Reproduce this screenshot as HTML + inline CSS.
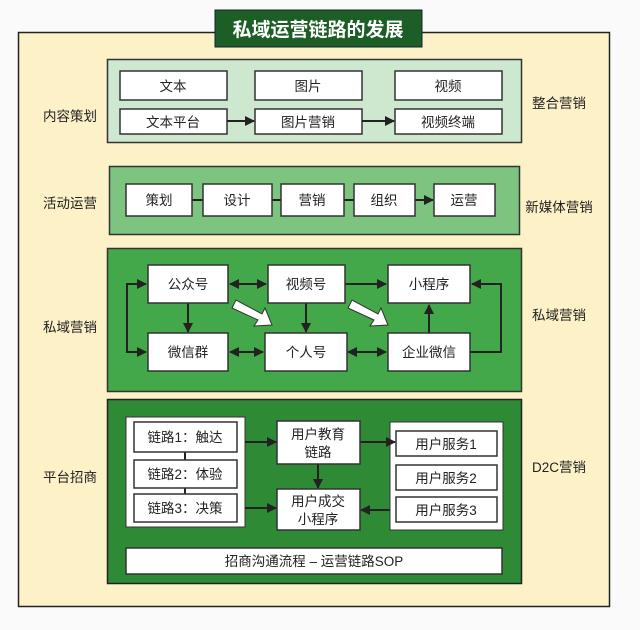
<!DOCTYPE html>
<html><head><meta charset="utf-8"><style>
html,body{margin:0;padding:0;background:#fafafa;}
svg text{font-family:"Liberation Sans","Noto Sans CJK SC",sans-serif;fill:#222;}
</style></head><body>
<svg width="640" height="625" viewBox="0 0 640 625" xmlns="http://www.w3.org/2000/svg">
<defs>
<marker id="a" markerWidth="10" markerHeight="10" refX="9" refY="5" orient="auto" markerUnits="userSpaceOnUse"><path d="M0,0 L10,5 L0,10 z" fill="#222"/></marker>
<marker id="s" markerWidth="10" markerHeight="10" refX="1" refY="5" orient="auto" markerUnits="userSpaceOnUse"><path d="M10,0 L0,5 L10,10 z" fill="#222"/></marker>
</defs>
<rect x="0" y="0" width="640" height="625" fill="#fafafa"/>
<rect x="18.5" y="32.5" width="591" height="574" fill="#fdf1c8" stroke="#222" stroke-width="1.5"/>
<rect x="215" y="10" width="207" height="37" fill="#1d5e27" stroke="#123" stroke-width="1"/>
<text x="318" y="36" font-size="19" font-weight="bold" text-anchor="middle" style="fill:#fff">私域运营链路的发展</text>

<g font-size="13.5" text-anchor="middle">
<text x="70" y="121">内容策划</text>
<text x="70" y="208">活动运营</text>
<text x="70" y="332">私域营销</text>
<text x="70" y="482">平台招商</text>
<text x="559" y="108">整合营销</text>
<text x="559" y="212">新媒体营销</text>
<text x="559" y="320">私域营销</text>
<text x="559" y="472">D2C营销</text>
</g>

<rect x="107.5" y="59.5" width="414" height="83" fill="#cde8cf" stroke="#333" stroke-width="1.5"/>
<g fill="#fff" stroke="#333" stroke-width="1.5">
<rect x="120" y="71" width="107" height="29"/><rect x="255" y="71" width="107" height="29"/><rect x="395" y="71" width="107" height="29"/>
<rect x="120" y="109" width="107" height="25"/><rect x="255" y="109" width="107" height="25"/><rect x="395" y="109" width="107" height="25"/>
</g>
<g stroke="#222" stroke-width="2"><line x1="227" y1="121" x2="254" y2="121" marker-end="url(#a)"/><line x1="362" y1="121" x2="394" y2="121" marker-end="url(#a)"/></g>
<g font-size="13.5" text-anchor="middle">
<text x="173" y="91">文本</text><text x="308" y="91">图片</text><text x="448" y="91">视频</text>
<text x="173" y="127">文本平台</text><text x="308" y="127">图片营销</text><text x="448" y="127">视频终端</text>
</g>

<rect x="109.5" y="166.5" width="410" height="68" fill="#7cc47f" stroke="#333" stroke-width="1.5"/>
<g stroke="#222" stroke-width="2"><line x1="192" y1="200" x2="203" y2="200"/><line x1="272" y1="200" x2="281" y2="200"/><line x1="344" y1="200" x2="354" y2="200"/><line x1="415" y1="200" x2="433" y2="200" marker-end="url(#a)"/></g>
<g fill="#fff" stroke="#333" stroke-width="1.5">
<rect x="126" y="184" width="66" height="32"/><rect x="203" y="184" width="69" height="32"/><rect x="281" y="184" width="63" height="32"/><rect x="354" y="184" width="61" height="32"/><rect x="434" y="184" width="61" height="32"/>
</g>
<g font-size="13.5" text-anchor="middle">
<text x="159" y="205">策划</text><text x="237" y="205">设计</text><text x="312" y="205">营销</text><text x="384" y="205">组织</text><text x="464" y="205">运营</text>
</g>

<rect x="107.5" y="248.5" width="414" height="143" fill="#43a84a" stroke="#333" stroke-width="1.5"/>
<g stroke="#222" stroke-width="2" fill="none">
<line x1="230" y1="284" x2="266" y2="284" marker-start="url(#s)" marker-end="url(#a)"/>
<line x1="345" y1="284" x2="386" y2="284" marker-end="url(#a)"/>
<line x1="230" y1="352" x2="263" y2="352" marker-start="url(#s)" marker-end="url(#a)"/>
<line x1="348" y1="352" x2="386" y2="352" marker-start="url(#s)" marker-end="url(#a)"/>
<line x1="188" y1="303" x2="188" y2="332" marker-end="url(#a)"/>
<line x1="306" y1="303" x2="306" y2="332" marker-end="url(#a)"/>
<line x1="429" y1="333" x2="429" y2="305" marker-end="url(#a)"/>
<polyline points="146,284 127,284 127,352 146,352" marker-start="url(#s)" marker-end="url(#a)"/>
<polyline points="470,352 501,352 501,284 472,284" marker-end="url(#a)"/>
</g>
<g fill="#fff" stroke="#333" stroke-width="1">
<polygon points="232,308 236,300 262,314 265,308 272,325 254,326 258,320"/>
<polygon points="348,308 352,300 378,314 381,308 388,325 370,326 374,320"/>
</g>
<g fill="#fff" stroke="#333" stroke-width="1.5">
<rect x="148" y="265" width="80" height="38"/><rect x="268" y="265" width="77" height="38"/><rect x="388" y="265" width="82" height="38"/>
<rect x="148" y="333" width="80" height="38"/><rect x="265" y="333" width="82" height="38"/><rect x="388" y="333" width="82" height="38"/>
</g>
<g font-size="13.5" text-anchor="middle">
<text x="188" y="289">公众号</text><text x="306" y="289">视频号</text><text x="429" y="289">小程序</text>
<text x="188" y="357">微信群</text><text x="306" y="357">个人号</text><text x="429" y="357">企业微信</text>
</g>

<rect x="107.5" y="399.5" width="414" height="184" fill="#2f8a36" stroke="#222" stroke-width="1.5"/>
<rect x="126" y="417" width="119" height="110" fill="#fff" stroke="#333" stroke-width="1"/>
<rect x="390" y="422" width="113" height="108" fill="#fff" stroke="#333" stroke-width="1"/>
<g stroke="#222" stroke-width="2" fill="none">
<line x1="185" y1="452" x2="185" y2="461"/>
<line x1="185" y1="488" x2="185" y2="494"/>
<line x1="245" y1="442" x2="276" y2="442" marker-end="url(#a)"/>
<line x1="245" y1="508" x2="276" y2="508" marker-end="url(#a)"/>
<line x1="318" y1="464" x2="318" y2="488" marker-end="url(#a)"/>
<line x1="360" y1="442" x2="395" y2="442" marker-end="url(#a)"/>
<line x1="390" y1="510" x2="361" y2="510" marker-end="url(#a)"/>
</g>
<g fill="#fff" stroke="#333" stroke-width="1.5">
<rect x="134" y="422" width="103" height="30"/><rect x="134" y="460" width="103" height="28"/><rect x="134" y="494" width="103" height="28"/>
<rect x="277" y="421" width="83" height="43"/><rect x="277" y="489" width="83" height="41"/>
<rect x="396" y="431" width="101" height="25"/><rect x="396" y="465" width="101" height="25"/><rect x="396" y="497" width="101" height="25"/>
<rect x="126" y="548" width="376" height="26"/>
</g>
<g font-size="13.5" text-anchor="middle">
<text x="185" y="442">链路1：触达</text><text x="185" y="479">链路2：体验</text><text x="185" y="513">链路3：决策</text>
<text x="318" y="439">用户教育</text><text x="318" y="457">链路</text>
<text x="318" y="506">用户成交</text><text x="318" y="524">小程序</text>
<text x="446" y="449">用户服务1</text><text x="446" y="483">用户服务2</text><text x="446" y="515">用户服务3</text>
<text x="314" y="566">招商沟通流程 – 运营链路SOP</text>
</g>
</svg>
</body></html>
